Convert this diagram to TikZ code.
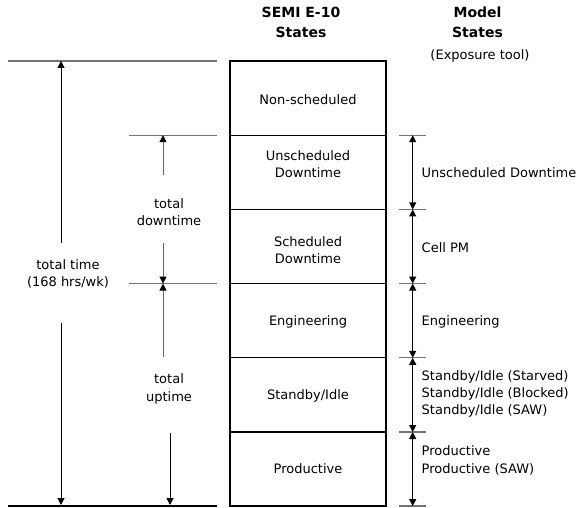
\documentclass[tikz,border=0pt]{standalone}
\usepackage{fontspec}
\setmainfont{DejaVu Sans}
\usetikzlibrary{arrows.meta}
\begin{document}
\begin{tikzpicture}[x=1bp,y=-1bp,
  txt/.style={inner sep=0pt,font=\fontsize{13bp}{17.3bp}\selectfont},
  hdr/.style={inner sep=0pt,font=\fontsize{14bp}{19.5bp}\selectfont\bfseries,align=center},
  rl/.style={txt,anchor=west,align=left},
  boxline/.style={line width=1.1bp,black},
  tick/.style={line width=1.1bp,black!55},
  arr/.style={line width=1bp,black,-{Triangle[length=7bp,width=7bp]}},
  garr/.style={line width=1bp,black!60,-{Triangle[length=7bp,width=7bp,color=black]}},
  dbl/.style={line width=1bp,black,{Triangle[length=7bp,width=7bp]}-{Triangle[length=7bp,width=7bp]}}]
\useasboundingbox (0,0) rectangle (582,508);

% headers
\node[hdr] (h1) at (301,22.5) {SEMI E-10\\States};
\node[hdr] (h2) at (477.5,22.5) {Model\\States};
\node[txt] (h3) at (480,56) {(Exposure tool)};

% box rows
\draw[boxline] (230,61) rectangle (386,506);
\foreach \y in {135.2,209.4,283.6,357.8,432}{\draw[boxline] (230,\y) -- (386,\y);}
\node[txt] (b1) at (308,100) {Non-scheduled};
\node[txt,align=center] (b2) at (308,164) {Unscheduled\\Downtime};
\node[txt,align=center] (b3) at (308,250) {Scheduled\\Downtime};
\node[txt] (b4) at (308,322) {Engineering};
\node[txt] (b5) at (308,396) {Standby/Idle};
\node[txt] (b6) at (308,469) {Productive};

% left horizontal lines
\draw[tick] (8,61) -- (217,61);
\draw[tick] (129,135.2) -- (217,135.2);
\draw[tick] (129,283.6) -- (217,283.6);
\draw[tick,black] (8,506) -- (217,506);

% total time
\coordinate (tt1) at (61,61);
\coordinate (tt2) at (61,243);
\coordinate (tt3) at (61,323);
\coordinate (tt4) at (61,505);
\draw[arr] (tt2) -- (tt1);
\draw[arr] (tt3) -- (tt4);
\node[txt,align=center] (ttl) at (68,274) {total time\\(168 hrs/wk)};

% total downtime
\coordinate (td1) at (163,135.2);
\coordinate (td2) at (163,175);
\coordinate (td3) at (163,243);
\coordinate (td4) at (163,283.6);
\draw[garr] (td2) -- (td1);
\draw[garr] (td3) -- (td4);
\node[txt,align=center] (tdl) at (169,212.5) {total\\downtime};

% total uptime
\coordinate (tu1) at (163,283.6);
\coordinate (tu2) at (163,357);
\coordinate (tu3) at (170,432.5);
\coordinate (tu4) at (170,505);
\draw[garr] (tu2) -- (tu1);
\draw[arr] (tu3) -- (tu4);
\node[txt,align=center] (tul) at (169,389) {total\\uptime};

% right side
\foreach \n/\y in {r0/135.2,r1/209.4,r2/283.6,r3/357.8,r4/432,r5/506}{
  \coordinate (\n) at (412.7,\y);
  \draw[tick] (399,\y) -- (426,\y);
}
\draw[dbl] (r0) -- (r1);
\draw[dbl] (r1) -- (r2);
\draw[dbl] (r2) -- (r3);
\draw[dbl] (r3) -- (r4);
\draw[dbl] (r4) -- (r5);

\node[rl] (m1) at (421.5,173) {Unscheduled Downtime};
\node[rl] (m2) at (421.5,248) {Cell PM};
\node[rl] (m3) at (421.5,322) {Engineering};
\node[rl] (m4) at (421.5,394) {Standby/Idle (Starved)\\Standby/Idle (Blocked)\\Standby/Idle (SAW)};
\node[rl] (m5) at (421.5,460.5) {Productive\\Productive (SAW)};
\end{tikzpicture}
\end{document}
